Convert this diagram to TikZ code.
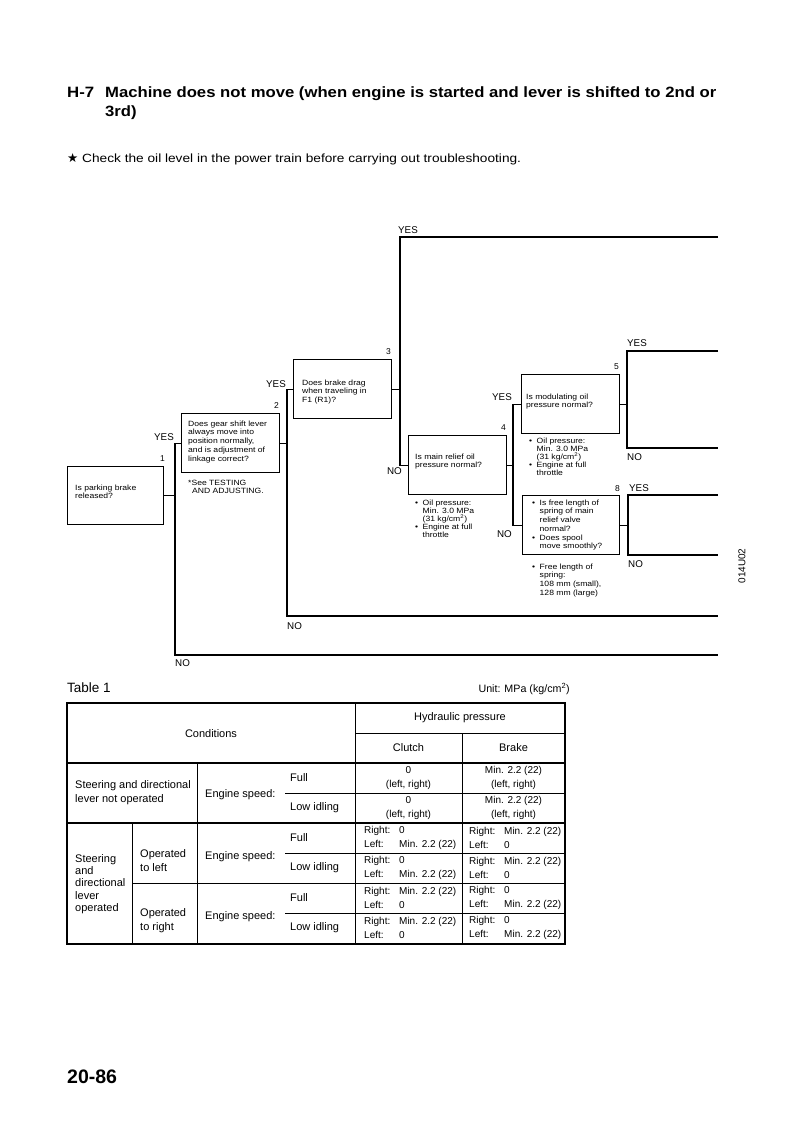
\documentclass[tikz,border=0pt]{standalone}
\usepackage{fontspec}
\setmainfont{Liberation Sans}
\newfontfamily\widefont[FakeStretch=1.13]{Liberation Sans}
\newfontfamily\headfont[FakeStretch=1.12]{Liberation Sans}
\newfontfamily\notefont[FakeStretch=1.15]{Liberation Sans}
\newfontfamily\symfont{DejaVu Sans}
\newcommand{\bl}{\makebox[7.5pt][l]{\textbullet}}
\newcommand{\ind}{\hspace*{7.5pt}}
\newcommand{\rl}[1]{\makebox[35pt][l]{#1}}
\begin{document}
\begin{tikzpicture}[x=1pt,y=-1pt,
  qbox/.style={draw, line width=1.4pt, rectangle, inner sep=0pt, anchor=north west},
  qtxt/.style={anchor=north west, inner sep=0pt, align=left, font=\widefont\fontsize{7.6}{8.75}\selectfont},
  ntxt/.style={anchor=north west, inner sep=0pt, align=left, font=\widefont\fontsize{7.6}{8}\selectfont},
  lab/.style={inner sep=0pt, font=\fontsize{9.8}{10}\selectfont},
  num/.style={inner sep=0pt, font=\fontsize{8.5}{9}\selectfont},
  flow/.style={line width=1.4pt},
  tline/.style={line width=0.8pt},
  touter/.style={line width=1.3pt},
  ttxt/.style={inner sep=0pt, font=\fontsize{11}{14}\selectfont},
  tcell/.style={inner sep=0pt, anchor=west, align=left, font=\fontsize{11}{14}\selectfont},
  vcell/.style={inner sep=0pt, anchor=west, align=left, font=\fontsize{10}{13.5}\selectfont}]
\useasboundingbox (0,0) rectangle (794,1127);

% ---------- heading ----------
\node[anchor=base west, inner sep=0pt, font=\headfont\fontsize{15}{19}\bfseries] (h7) at (67,97) {H-7};
\node[anchor=base west, inner sep=0pt, font=\headfont\fontsize{14.9}{19}\bfseries] (title) at (105,97)
  {Machine does not move (when engine is started and lever is shifted to 2nd or};
\node[anchor=base west, inner sep=0pt, font=\headfont\fontsize{14.9}{19}\bfseries] (title2) at (105,116) {3rd)};
\node[anchor=base west, inner sep=0pt, font=\notefont\fontsize{11.9}{14}\selectfont] (note) at (67,162)
  {{\symfont\fontsize{12.5}{14}\selectfont ★}\ Check the oil level in the power train before carrying out troubleshooting.};

% ---------- boxes ----------
\node[qbox, minimum width=96pt, minimum height=58pt] (b1) at (67,466) {};
\node[qbox, minimum width=98pt, minimum height=59pt] (b2) at (181,413) {};
\node[qbox, minimum width=98pt, minimum height=59pt] (b3) at (293,359) {};
\node[qbox, minimum width=98pt, minimum height=59pt] (b4) at (408,435) {};
\node[qbox, minimum width=98pt, minimum height=59pt] (b5) at (521,374) {};
\node[qbox, minimum width=97pt, minimum height=59pt] (b8) at (522,495) {};

% box texts
\node[qtxt] (t1) at (75,484.5) {Is parking brake\\released?};
\node[qtxt] (t2) at (188,420.5) {Does gear shift lever\\always move into\\position normally,\\and is adjustment of\\linkage correct?};
\node[qtxt] (t2n) at (188,479.5) {*See TESTING\\\hspace*{4pt}AND ADJUSTING.};
\node[qtxt] (t3) at (302,379.5) {Does brake drag\\when traveling in\\F1 (R1)?};
\node[qtxt] (t4) at (415,453.5) {Is main relief oil\\pressure normal?};
\node[ntxt] (t4n) at (415,499.5) {\bl Oil pressure:\\\ind Min. 3.0 MPa\\\ind (31 kg/cm\textsuperscript{2})\\\bl Engine at full\\\ind throttle};
\node[qtxt] (t5) at (526,393.5) {Is modulating oil\\pressure normal?};
\node[ntxt] (t5n) at (529,437.5) {\bl Oil pressure:\\\ind Min. 3.0 MPa\\\ind (31 kg/cm\textsuperscript{2})\\\bl Engine at full\\\ind throttle};
\node[qtxt] (t8) at (532,499.5) {\bl Is free length of\\\ind spring of main\\\ind relief valve\\\ind normal?\\\bl Does spool\\\ind move smoothly?};
\node[qtxt] (t8n) at (532,563.5) {\bl Free length of\\\ind spring:\\\ind 108 mm (small),\\\ind 128 mm (large)};

% numbers
\node[num, anchor=base east] (n1) at (165,461) {1};
\node[num, anchor=base east] (n2) at (279,408) {2};
\node[num, anchor=base east] (n3) at (391,354) {3};
\node[num, anchor=base east] (n4) at (506,430) {4};
\node[num, anchor=base east] (n5) at (619,369) {5};
\node[num, anchor=base east] (n8) at (620,491) {8};

% ---------- connectors ----------
\coordinate (j1) at (175,655);
\coordinate (e1) at (718,655);
\coordinate (j2) at (287,616);
\coordinate (e2) at (718,616);
\coordinate (j3) at (400,237);
\coordinate (e3) at (718,237);
\coordinate (j4) at (513,0);
\coordinate (y5a) at (627,351);
\coordinate (y5b) at (718,351);
\coordinate (n5a) at (627,448);
\coordinate (n5b) at (718,448);
\coordinate (y8a) at (628,495);
\coordinate (y8b) at (718,495);
\coordinate (n8a) at (628,555);
\coordinate (n8b) at (718,555);

\draw[flow] (b1.east) -- (b1.east -| j1);
\draw[flow] (b2.west) -| (j1) -- (e1);
\draw[flow] (b2.east) -- (b2.east -| j2);
\draw[flow] (b3.west) -| (j2) -- (e2);
\draw[flow] (b3.east) -- (b3.east -| j3);
\draw[flow] (e3) -- (j3) |- (b4.west);
\draw[flow] (b4.east) -- (b4.east -| j4);
\draw[flow] (b5.west) -- (b5.west -| j4) -- (b8.west -| j4) -- (b8.west);
\draw[flow] (b5.east) -- (b5.east -| y5a);
\draw[flow] (y5b) -- (y5a) -- (n5a) -- (n5b);
\draw[flow] (b8.east) -- (b8.east -| y8a);
\draw[flow] (y8b) -- (y8a) -- (n8a) -- (n8b);

% YES / NO labels
\node[lab, anchor=base east] (yes1) at (174,440) {YES};
\node[lab, anchor=base west] (no1) at (175,666) {NO};
\node[lab, anchor=base east] (yes2) at (286,387) {YES};
\node[lab, anchor=base west] (no2) at (287,629) {NO};
\node[lab, anchor=base west] (yes3) at (398,233) {YES};
\node[lab, anchor=base east] (no3) at (402,474) {NO};
\node[lab, anchor=base east] (yes4) at (512,400) {YES};
\node[lab, anchor=base east] (no4) at (512,537) {NO};
\node[lab, anchor=base west] (yes5) at (627,346) {YES};
\node[lab, anchor=base west] (no5) at (627,460) {NO};
\node[lab, anchor=base west] (yes8) at (629,491) {YES};
\node[lab, anchor=base west] (no8) at (628,567) {NO};

\node[inner sep=0pt, rotate=90, font=\fontsize{10}{12}\selectfont] (code) at (742,566) {014U02};

% ---------- table ----------
\node[anchor=base west, inner sep=0pt, font=\fontsize{13.5}{15}\selectfont] (tab) at (67,692) {Table 1};
\node[anchor=base east, inner sep=0pt, font=\fontsize{10.7}{12}\selectfont] (unit) at (570,692) {Unit: MPa (kg/cm\textsuperscript{2})};

\draw[touter] (67,703) rectangle (565,944);
\draw[tline] (355,703) -- (355,944);
\draw[tline] (355,733) -- (565,733);
\draw[tline] (462,733) -- (462,944);
\draw[touter] (67,763) -- (565,763);
\draw[tline] (197,763) -- (197,944);
\draw[tline] (285,793) -- (565,793);
\draw[touter] (67,823) -- (565,823);
\draw[tline] (132,823) -- (132,944);
\draw[tline] (285,853) -- (565,853);
\draw[tline] (132,883) -- (565,883);
\draw[tline] (285,913) -- (565,913);

\node[ttxt] (c0) at (211,734) {Conditions};
\node[ttxt] (hp) at (460,718) {Hydraulic pressure};
\node[ttxt] (cl) at (408.5,748) {Clutch};
\node[ttxt] (br) at (513.5,748) {Brake};

\node[tcell] (s1) at (75,793) {Steering and directional\\lever not operated};
\node[tcell] (es1) at (205,795) {Engine speed:};
\node[tcell] (f1) at (290,778) {Full};
\node[tcell] (l1) at (290,808) {Low idling};
\node[vcell, anchor=center, align=center] (c11) at (408.5,778) {0\\(left, right)};
\node[vcell, anchor=center, align=center] (c12) at (408.5,808) {0\\(left, right)};
\node[vcell, anchor=center, align=center] (c13) at (513.5,778) {Min. 2.2 (22)\\(left, right)};
\node[vcell, anchor=center, align=center] (c14) at (513.5,808) {Min. 2.2 (22)\\(left, right)};

\node[tcell, font=\fontsize{11}{12.2}\selectfont] (s2) at (75,884) {Steering\\and\\directional\\lever\\operated};
\node[tcell] (ol) at (140,861) {Operated\\to left};
\node[tcell] (or) at (140,921) {Operated\\to right};
\node[tcell] (es2) at (205,857) {Engine speed:};
\node[tcell] (es3) at (205,917) {Engine speed:};
\node[tcell] (f2) at (290,838) {Full};
\node[tcell] (l2) at (290,868) {Low idling};
\node[tcell] (f3) at (290,898) {Full};
\node[tcell] (l3) at (290,928) {Low idling};

\node[vcell] (r1c) at (364,838) {\rl{Right:}0\\\rl{Left:}Min. 2.2 (22)};
\node[vcell] (r2c) at (364,868) {\rl{Right:}0\\\rl{Left:}Min. 2.2 (22)};
\node[vcell] (r3c) at (364,898) {\rl{Right:}Min. 2.2 (22)\\\rl{Left:}0};
\node[vcell] (r4c) at (364,928) {\rl{Right:}Min. 2.2 (22)\\\rl{Left:}0};
\node[vcell] (r1b) at (469,838) {\rl{Right:}Min. 2.2 (22)\\\rl{Left:}0};
\node[vcell] (r2b) at (469,868) {\rl{Right:}Min. 2.2 (22)\\\rl{Left:}0};
\node[vcell] (r3b) at (469,898) {\rl{Right:}0\\\rl{Left:}Min. 2.2 (22)};
\node[vcell] (r4b) at (469,928) {\rl{Right:}0\\\rl{Left:}Min. 2.2 (22)};

% page number
\node[anchor=base west, inner sep=0pt, font=\fontsize{19.5}{22}\bfseries] (page) at (67,1083) {20-86};
\end{tikzpicture}
\end{document}
